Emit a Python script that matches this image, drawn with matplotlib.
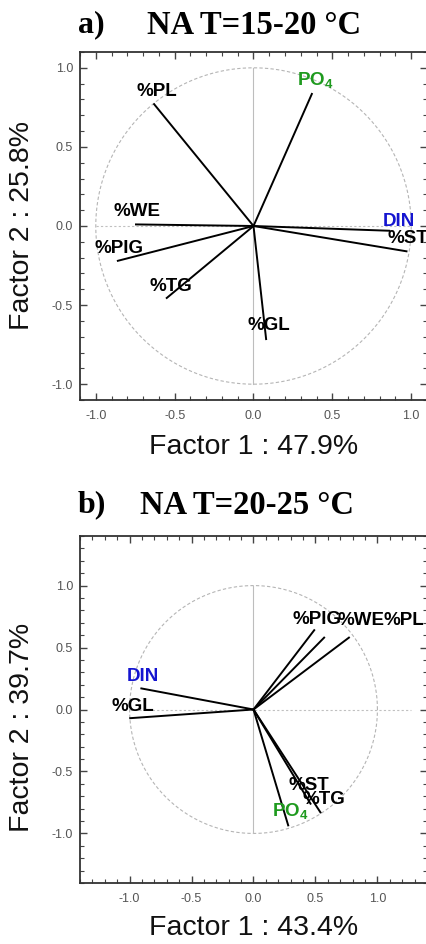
import matplotlib
matplotlib.use("Agg")
import matplotlib.pyplot as plt
import numpy as np
from matplotlib.ticker import MultipleLocator

plt.rcParams['font.family'] = ['Liberation Sans', 'DejaVu Sans']
plt.rcParams['mathtext.fontset'] = 'custom'
plt.rcParams['mathtext.rm'] = 'Liberation Sans:bold'
plt.rcParams['mathtext.it'] = 'Liberation Sans:bold'
plt.rcParams['mathtext.bf'] = 'Liberation Sans:bold'

# variable names (same order in both panels)
variables = ['%PL', 'PO$_4$', '%WE', 'DIN', '%ST', '%PIG', '%TG', '%GL']

# panel a: NA T=15-20 C, loadings on factor 1 / factor 2
f1_a = [-0.63, 0.37, -0.745, 0.86, 0.97, -0.86, -0.55, 0.08]
f2_a = [0.77, 0.835, 0.01, -0.03, -0.16, -0.22, -0.455, -0.715]

# panel b: NA T=20-25 C
f1_b = [0.77, 0.28, 0.57, -0.905, 0.46, 0.49, 0.54, -0.995]
f2_b = [0.58, -0.935, 0.58, 0.17, -0.76, 0.64, -0.83, -0.07]

titles = ['NA T=15-20 °C', 'NA T=20-25 °C']
letters = ['a)', 'b)']
xlabels = ['Factor 1 : 47.9%', 'Factor 1 : 43.4%']
ylabels = ['Factor 2 : 25.8%', 'Factor 2 : 39.7%']

# where each name is written (center of text), per panel
label_pos_a = [(-0.615, 0.85), (0.39, 0.92), (-0.74, 0.09), (0.92, 0.03),
               (0.85, -0.08), (-0.85, -0.145), (-0.525, -0.38), (0.095, -0.63)]
label_pos_b = [(1.05, 0.72), (0.30, -0.82), (0.865, 0.72), (-0.89, 0.27),
               (0.45, -0.61), (0.51, 0.73), (0.565, -0.73), (-0.975, 0.025)]
left_aligned_a = {'%ST'}
left_aligned_b = {'%PL'}

colors = {'PO$_4$': '#1f9a1f', 'DIN': '#1515d0'}

fig = plt.figure(figsize=(4.27, 9.44), dpi=100)


def draw_panel(rect, f1, f2, lim, label_pos, left_aligned, hline_ext):
    ax = fig.add_axes(rect)
    t = np.linspace(0, 2 * np.pi, 400)
    ax.plot(np.cos(t), np.sin(t), color='#b5b5b5', lw=0.8, ls=(0, (3, 2)), zorder=1)
    ax.plot([0, 0], [-1, 1], color='#bdbdbd', lw=0.8, zorder=1)
    ax.plot([-1, hline_ext], [0, 0], color='#c0c0c0', lw=0.8, ls=(0, (2, 2)), zorder=1)
    for name, x, y, (lx, ly) in zip(variables, f1, f2, label_pos):
        ax.plot([0, x], [0, y], color='black', lw=1.4, zorder=3)
        ha = 'left' if name in left_aligned else 'center'
        ax.text(lx, ly, name, color=colors.get(name, 'black'), fontsize=13.5,
                fontweight='bold', ha=ha, va='center', zorder=4)
    ax.set_xlim(-lim, lim)
    ax.set_ylim(-lim, lim)
    ax.xaxis.set_major_locator(MultipleLocator(0.5))
    ax.yaxis.set_major_locator(MultipleLocator(0.5))
    ax.xaxis.set_minor_locator(MultipleLocator(0.1))
    ax.yaxis.set_minor_locator(MultipleLocator(0.1))
    ax.tick_params(which='both', direction='in', top=True, right=True,
                   colors='#444444', labelsize=9, labelcolor='#555555')
    ax.tick_params(which='major', length=5, width=1)
    ax.tick_params(which='minor', length=3, width=0.8)
    ax.tick_params(axis='x', pad=7)
    ax.tick_params(axis='y', pad=5)
    ax.xaxis.set_major_formatter(plt.FuncFormatter(lambda v, p: f'{v:.1f}'))
    ax.yaxis.set_major_formatter(plt.FuncFormatter(lambda v, p: f'{v:.1f}'))
    for s in ax.spines.values():
        s.set_color('#333333')
        s.set_linewidth(1.3)
    ax.spines['right'].set_visible(False)
    return ax


ax_a = draw_panel([80 / 427, 544 / 944, 347 / 427, 348 / 944],
                  f1_a, f2_a, 1.1, label_pos_a, left_aligned_a, 1.0)
ax_b = draw_panel([80 / 427, 61 / 944, 347 / 427, 347 / 944],
                  f1_b, f2_b, 1.4, label_pos_b, left_aligned_b, 1.27)

# titles and axis labels in figure pixel coordinates
H = 944.0
for i, (ty, xly, yly) in enumerate([(25, 447, 225), (505, 928, 727)]):
    fig.text(78 / 427, 1 - ty / H, letters[i], fontsize=23, fontweight='bold',
             family='Liberation Serif', ha='left', va='center')
    fig.text((147 if i == 0 else 140) / 427, 1 - ty / H, titles[i], fontsize=23.5,
             fontweight='bold', family='Liberation Serif', ha='left', va='center')
    fig.text(254 / 427, 1 - xly / H, xlabels[i], fontsize=20.5, ha='center', va='center',
             color='#111111')
    fig.text(22 / 427, 1 - yly / H, ylabels[i], fontsize=20.5, ha='center', va='center',
             rotation=90, color='#111111')

fig.savefig('out.png', dpi=100)
